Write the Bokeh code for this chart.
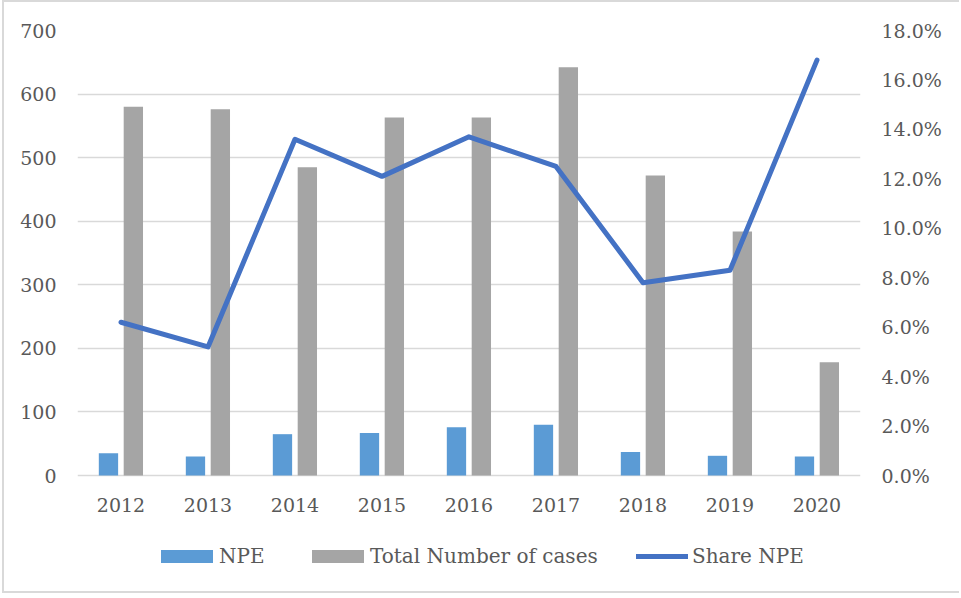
from bokeh.plotting import figure
from bokeh.models import (Range1d, LinearAxis, FixedTicker, NumeralTickFormatter,
                          Legend, LegendItem, ColumnDataSource, FactorRange)
from bokeh.core.properties import value
from bokeh.transform import dodge
from bokeh.embed import file_html
from bokeh.resources import INLINE

years = ["2012", "2013", "2014", "2015", "2016", "2017", "2018", "2019", "2020"]
npe = [35, 30, 65, 67, 76, 80, 37, 31, 30]
total = [580, 576, 485, 563, 563, 642, 472, 384, 178]
share_npe = [0.062, 0.052, 0.136, 0.121, 0.137, 0.125, 0.078, 0.083, 0.168]

FONT = "DejaVu Serif"
TXT = "#595959"
GRID = "#D9D9D9"

W, H = 957, 593
TOP, LEFT, RIGHT, BOTTOM = 28, 73, 101, 4
PLOT_H = 445                      # height of the 0..700 value band
FRAME_H = H - TOP - BOTTOM
below = FRAME_H - PLOT_H          # room under the zero line for labels/legend
YMAX, RMAX = 700, 0.18

src = ColumnDataSource(dict(year=years, npe=npe, total=total, share=share_npe))

p = figure(width=W, height=H, x_range=FactorRange(*years),
           y_range=Range1d(-YMAX * below / PLOT_H, YMAX),
           output_backend="svg", toolbar_location=None,
           min_border_left=LEFT, min_border_right=RIGHT,
           min_border_top=TOP, min_border_bottom=BOTTOM)
p.styles = {"margin-left": "2px",
            "border-left": "2px solid #D9D9D9",
            "border-top": "2px solid #D9D9D9",
            "border-bottom": "2px solid #D9D9D9"}
p.outline_line_color = None
p.extra_y_ranges = {"share": Range1d(-RMAX * below / PLOT_H, RMAX)}

r_npe = p.vbar(x=dodge("year", -0.144, range=p.x_range), top="npe", width=0.222,
               source=src, color="#5B9BD5", line_color=None)
r_tot = p.vbar(x=dodge("year", 0.142, range=p.x_range), top="total", width=0.222,
               source=src, color="#A5A5A5", line_color=None)
r_line = p.line(x="year", y="share", source=src, y_range_name="share",
                line_color="#4472C4", line_width=5, line_cap="round", line_join="round")

# category labels under the zero line
p.text(x="year", y=0, text="year", source=src, y_offset=29,
       text_align="center", text_baseline="middle",
       text_font=value(FONT), text_font_size="19px", text_color=TXT)
p.xaxis.visible = False

# value axes
p.yaxis.ticker = FixedTicker(ticks=list(range(0, 701, 100)))
ra = LinearAxis(y_range_name="share",
                ticker=FixedTicker(ticks=[i * 0.02 for i in range(10)]),
                formatter=NumeralTickFormatter(format="0.0%"))
p.add_layout(ra, "right")

for ax in [p.yaxis[0], ra]:
    ax.axis_line_color = None
    ax.major_tick_line_color = None
    ax.minor_tick_line_color = None
    ax.major_tick_out = 0
    ax.major_tick_in = 0
    ax.major_label_standoff = 21
    ax.major_label_text_font = FONT
    ax.major_label_text_font_size = "19px"
    ax.major_label_text_color = TXT

p.xgrid.grid_line_color = None
p.ygrid.grid_line_color = GRID
p.ygrid.grid_line_width = 1.3
p.x_range.range_padding = 0
p.x_range.group_padding = 0

def add_leg(label, renderer, x, gw, gh, standoff):
    lg = Legend(items=[LegendItem(label=label, renderers=[renderer])],
                location=(x, 23), orientation="horizontal",
                glyph_width=gw, glyph_height=gh, label_height=20,
                label_standoff=standoff, padding=0, margin=0, spacing=0,
                border_line_color=None, background_fill_alpha=0,
                label_text_font=FONT, label_text_font_size="20px",
                label_text_color=TXT)
    p.add_layout(lg, "center")

add_leg("NPE", r_npe, 77, 65, 16, 0)
add_leg("Total Number of cases", r_tot, 228, 65, 16, 0)
add_leg("Share NPE", r_line, 559, 52, 16, 4)

open("out.html", "w").write(file_html(p, INLINE))
